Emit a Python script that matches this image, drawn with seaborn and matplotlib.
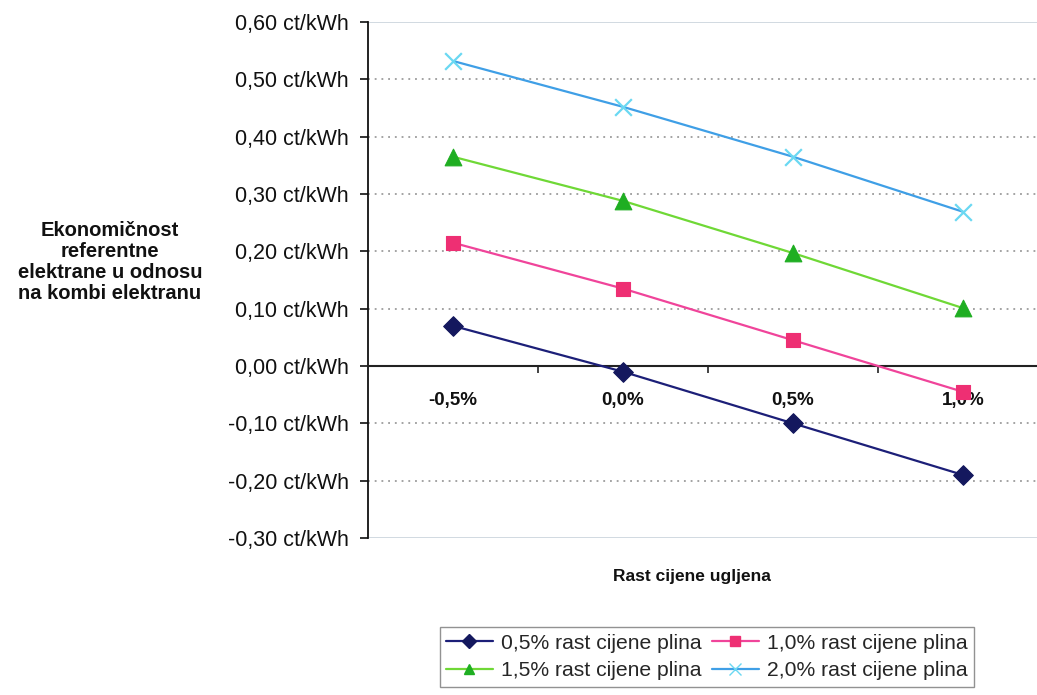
import matplotlib
matplotlib.use("Agg")
import matplotlib.pyplot as plt
import seaborn as sns
import pandas as pd
from matplotlib.lines import Line2D

# Coal price growth scenarios (x axis categories)
coal_growth = ["-0,5%", "0,0%", "0,5%", "1,0%"]

# Gas price growth series: relative economy in ct/kWh
gas_05 = [0.07, -0.01, -0.10, -0.19]
gas_10 = [0.215, 0.135, 0.045, -0.045]
gas_15 = [0.365, 0.288, 0.197, 0.101]
gas_20 = [0.532, 0.452, 0.365, 0.269]

series_names = ["0,5% rast cijene plina", "1,0% rast cijene plina",
                "1,5% rast cijene plina", "2,0% rast cijene plina"]
series_values = [gas_05, gas_10, gas_15, gas_20]

y_ticks = [0.60, 0.50, 0.40, 0.30, 0.20, 0.10, 0.00, -0.10, -0.20, -0.30]
y_tick_labels = ["0,60 ct/kWh", "0,50 ct/kWh", "0,40 ct/kWh", "0,30 ct/kWh",
                 "0,20 ct/kWh", "0,10 ct/kWh", "0,00 ct/kWh", "-0,10 ct/kWh",
                 "-0,20 ct/kWh", "-0,30 ct/kWh"]

y_title = "Ekonomičnost\nreferentne\nelektrane u odnosu\nna kombi elektranu"
x_title = "Rast cijene ugljena"

line_colors = {series_names[0]: "#1c1f78", series_names[1]: "#f0449a",
               series_names[2]: "#6fd836", series_names[3]: "#3f9fe6"}
marker_colors = {series_names[0]: "#14185e", series_names[1]: "#ee2f73",
                 series_names[2]: "#1fae22", series_names[3]: "#6ad8f2"}
markers = {series_names[0]: "D", series_names[1]: "s",
           series_names[2]: "^", series_names[3]: "x"}
marker_sizes = {series_names[0]: 10, series_names[1]: 10,
                series_names[2]: 12, series_names[3]: 12}

rows = []
for name, vals in zip(series_names, series_values):
    for i, v in enumerate(vals):
        rows.append({"pos": i, "scenario": coal_growth[i], "serija": name, "val": v})
df = pd.DataFrame(rows)

sns.set_theme(style="white")
plt.rcParams["font.family"] = ["Liberation Sans", "DejaVu Sans"]

fig = plt.figure(figsize=(10.37, 6.95), dpi=100)
ax = fig.add_axes([368 / 1037, 1 - 538 / 695, 680 / 1037, 516 / 695])

# connecting lines, one call through seaborn
sns.lineplot(data=df, x="pos", y="val", hue="serija", palette=line_colors,
             hue_order=series_names, linewidth=1.6, legend=False, ax=ax,
             zorder=3)
# markers on top
for name in series_names:
    sub = df[df["serija"] == name]
    mk = markers[name]
    if mk == "x":
        ax.scatter(sub["pos"], sub["val"], marker="x", s=marker_sizes[name] ** 2,
                   color=marker_colors[name], linewidths=1.6, zorder=4)
    else:
        ax.scatter(sub["pos"], sub["val"], marker=mk, s=marker_sizes[name] ** 2,
                   color=marker_colors[name], edgecolors=marker_colors[name],
                   linewidths=0.8, zorder=4)

ax.set_xlim(-0.5, 3.5)
ax.set_ylim(-0.30, 0.60)

# horizontal grid: dotted inside, faint solid at the plot edges
for yv in y_ticks:
    if yv in (0.60, -0.30):
        ax.axhline(yv, color="#c9d3dc", linewidth=1.2, zorder=1)
    elif yv != 0.0:
        ax.axhline(yv, color="#8a8a8a", linewidth=1.1, linestyle=(0, (1.2, 3.2)),
                   zorder=1)

for side in ("top", "right"):
    ax.spines[side].set_visible(False)
ax.spines["left"].set_color("#111111")
ax.spines["left"].set_linewidth(1.3)
ax.spines["bottom"].set_position(("data", 0))
ax.spines["bottom"].set_color("#222222")
ax.spines["bottom"].set_linewidth(1.5)

ax.set_yticks(y_ticks)
ax.set_yticklabels(y_tick_labels, fontsize=15.5, color="#111111")
ax.tick_params(axis="y", direction="out", length=6, width=1.2, color="#111111",
               pad=8, left=True)

ax.set_xticks(range(len(coal_growth)))
ax.set_xticklabels(coal_growth, fontsize=13.5, fontweight="bold", color="#111111")
ax.set_xticks([0.5, 1.5, 2.5], minor=True)
ax.tick_params(axis="x", which="major", length=0, pad=19)
ax.tick_params(axis="x", which="minor", direction="out", length=5, width=1.2,
               color="#222222", bottom=True)
ax.set_xlabel("")
ax.set_ylabel("")

fig.text(110 / 1037, 1 - 262 / 695, y_title, ha="center", va="center",
         multialignment="center", fontsize=14.5, fontweight="bold",
         linespacing=1.14, color="#111111")
fig.text(692 / 1037, 1 - 576 / 695, x_title, ha="center", va="center",
         fontsize=12.5, fontweight="bold", color="#111111")

# legend: two rows, entries filled column-wise
handles = []
for name in series_names:
    mk = markers[name]
    handles.append(Line2D([], [], color=line_colors[name], linewidth=1.6,
                          marker=mk, markersize=7 if mk != "x" else 8,
                          markerfacecolor=marker_colors[name],
                          markeredgecolor=marker_colors[name], label=name))
order = [0, 2, 1, 3]
leg = fig.legend([handles[i] for i in order], [series_names[i] for i in order],
                 ncol=2, loc="center", bbox_to_anchor=(707 / 1037, 1 - 657 / 695),
                 fontsize=15.2, frameon=True, fancybox=False, handlelength=2.2,
                 handletextpad=0.4, columnspacing=0.5, borderpad=0.3,
                 labelspacing=0.4)
leg.get_frame().set_edgecolor("#777777")
leg.get_frame().set_linewidth(1.0)

fig.savefig("out.png", dpi=100)
